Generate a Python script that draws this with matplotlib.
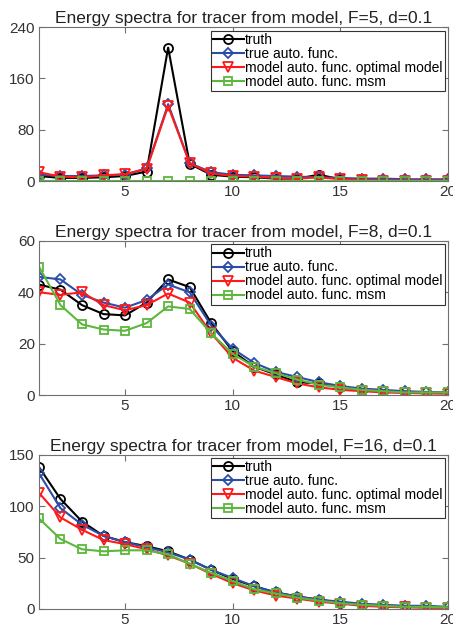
import matplotlib
matplotlib.use('Agg')
import matplotlib.pyplot as plt

plt.rcParams['font.family'] = ['Liberation Sans', 'DejaVu Sans']

k = list(range(1, 21))

# F=5
truth_5 = [8, 5, 5, 6, 8, 15, 208, 27, 10, 7, 6, 4, 4, 10, 3, 2, 1, 1, 1, 1]
auto_5 = [10, 8, 8, 9, 10, 20, 120, 28, 14, 10, 9, 8, 7, 6, 5, 4, 4, 3, 3, 3]
opt_5 = [14, 7, 6, 9, 11, 19, 117, 28, 12, 8, 7, 5, 4, 6, 3, 2, 1, 1, 1, 1]
msm_5 = [0.5] * 20

# F=8
truth_8 = [43, 41, 35, 31.5, 31, 36, 45, 42, 28, 17, 11, 8, 5, 4.5, 3, 2, 1.5, 1, 1, 0.8]
auto_8 = [46, 45, 39, 36, 34, 37, 43, 40, 27, 18, 12.5, 9, 7, 5, 3.5, 2.5, 2, 1.5, 1.2, 1]
opt_8 = [40, 39, 40, 35, 33, 35, 39.5, 36, 24, 14.5, 9.5, 7, 4.5, 3, 2, 1.5, 1, 0.8, 0.6, 0.5]
msm_8 = [50, 35, 27.5, 25.5, 25, 28, 34.5, 33.5, 24, 16, 11, 8.5, 6, 4, 3, 2, 1.5, 1, 1, 1]

# F=16
truth_16 = [138, 107, 85, 71, 65, 61, 56, 48, 38, 29, 22, 16, 12, 9, 6, 4, 3, 2, 2, 1.5]
auto_16 = [132, 98, 82, 71, 65, 60, 55, 48, 38, 30, 22, 16, 12, 9, 7, 5, 4, 3, 3, 2]
opt_16 = [113, 89, 77, 67, 63, 58, 52, 44, 34, 25, 18, 13, 10, 7, 5, 3, 2, 1.5, 1, 1]
msm_16 = [88, 68, 58, 56, 57, 57, 53, 44, 35, 27, 19, 15, 11, 8, 5.5, 4, 3, 2, 2, 1.5]

labels = ['truth', 'true auto. func.', 'model auto. func. optimal model', 'model auto. func. msm']
titles = ['Energy spectra for tracer from model, F=5, d=0.1',
          'Energy spectra for tracer from model, F=8, d=0.1',
          'Energy spectra for tracer from model, F=16, d=0.1']
yticks = [[0, 80, 160, 240], [0, 20, 40, 60], [0, 50, 100, 150]]
panels = [(truth_5, auto_5, opt_5, msm_5),
          (truth_8, auto_8, opt_8, msm_8),
          (truth_16, auto_16, opt_16, msm_16)]

colors = ['black', '#2b4ea8', '#ff1a1a', '#5cb83c']
markers = ['o', 'D', 'v', 's']
msizes = [6.5, 5.5, 6.5, 5.5]

fig = plt.figure(figsize=(4.53, 6.29), dpi=100)
bottoms = [0.712, 0.372, 0.032]
gray = '#707070'

for i in range(3):
    ax = fig.add_axes([0.086, bottoms[i], 0.903, 0.245])
    for y, c, m, ms, lab in zip(panels[i], colors, markers, msizes, labels):
        ax.plot(k, y, color=c, marker=m, markersize=ms, markerfacecolor='none',
                markeredgecolor=c, markeredgewidth=1.3, linewidth=1.5, label=lab)
    ax.set_xlim(1, 20)
    ax.set_ylim(yticks[i][0], yticks[i][-1])
    ax.set_yticks(yticks[i])
    ax.set_xticks([5, 10, 15, 20])
    ax.set_title(titles[i], fontsize=12.5, pad=3, color='#222222')
    ax.tick_params(direction='in', top=True, right=True, labelsize=11,
                   colors=gray, labelcolor='#333333', length=4, pad=3)
    for s in ax.spines.values():
        s.set_color(gray)
        s.set_linewidth(0.8)
    leg = ax.legend(loc='upper right', fontsize=10, handlelength=2.2,
                    handletextpad=0.1, borderpad=0.15, labelspacing=0.0,
                    fancybox=False, framealpha=1, borderaxespad=0.25)
    leg.get_frame().set_edgecolor('#333333')
    leg.get_frame().set_linewidth(0.8)

fig.savefig('out.png', dpi=100)
